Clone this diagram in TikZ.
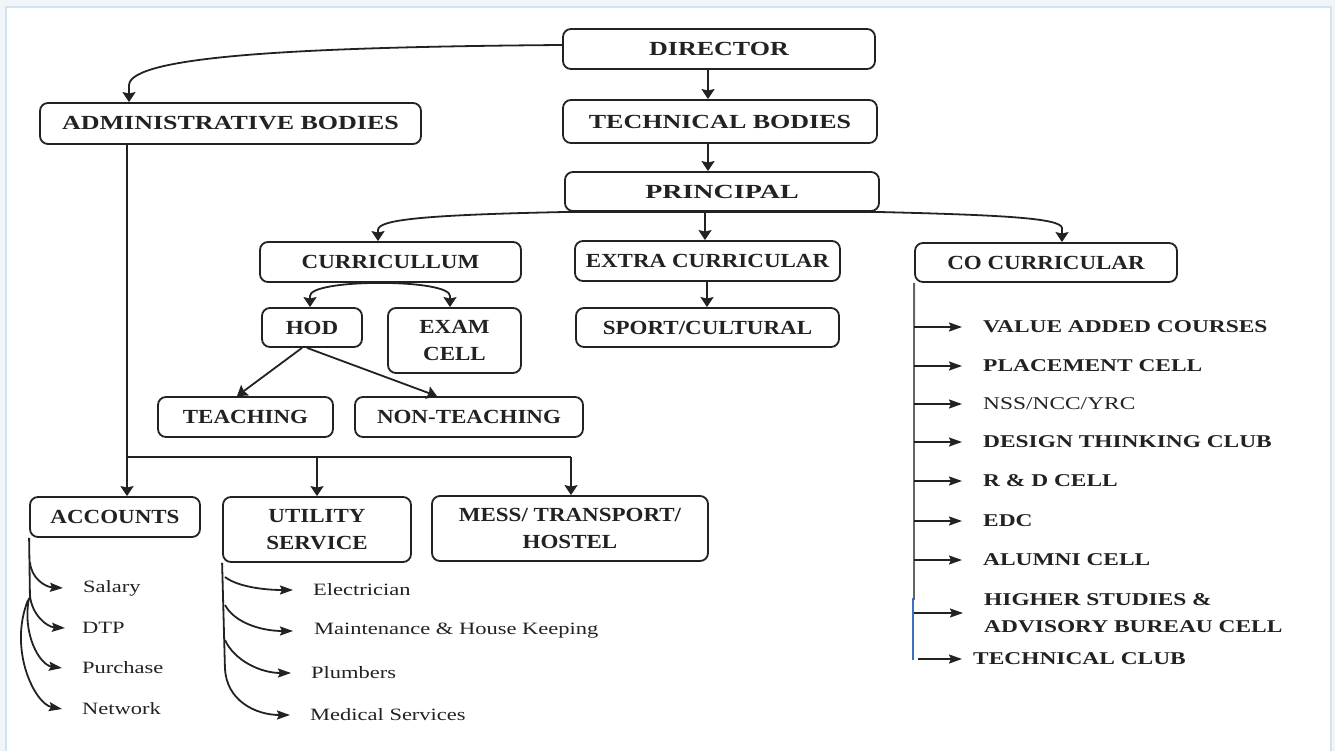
\documentclass[tikz,border=0pt]{standalone}
\usepackage{fontspec}
\setmainfont{Liberation Serif}[FakeStretch=1.15]
\newfontfamily\widef{Liberation Serif}[FakeStretch=1.3]
\newfontfamily\widerf{Liberation Serif}[FakeStretch=1.4]
\usetikzlibrary{arrows.meta}
\definecolor{ink}{HTML}{222222}
\definecolor{framec}{HTML}{D3E2F1}
\definecolor{bluebar}{HTML}{3F6FC0}
\begin{document}
\begin{tikzpicture}[x=1pt,y=-1pt,
  box/.style={draw=ink, line width=1.8pt, rounded corners=8pt, inner sep=0pt, text=ink,
    font=\fontsize{20}{27}\selectfont\bfseries, align=center},
  topbox/.style={box, font=\widef\fontsize{20}{27}\selectfont\bfseries},
  link/.style={draw=ink, line width=1.8pt, -{Stealth[length=10pt,width=13pt,inset=1.5pt]}},
  hlink/.style={draw=ink, line width=1.8pt, -{Stealth[length=13pt,width=9pt,inset=2pt]}},
  wire/.style={draw=ink, line width=1.8pt},
  item/.style={text=ink, anchor=west, inner sep=0pt, font=\widef\fontsize{17.3}{20}\selectfont},
  coitem/.style={text=ink, anchor=west, inner sep=0pt, font=\widef\fontsize{18}{27}\selectfont\bfseries, align=left},
]
\useasboundingbox (0,0) rectangle (1335,751);
\fill[framec!35] (0,0) rectangle (1335,751);
\filldraw[fill=white, draw=framec, line width=1.5pt] (6,7) rectangle (1331,762);

% top boxes
\node[topbox, minimum width=312, minimum height=40] (dir) at (719,49) {DIRECTOR};
\node[topbox, minimum width=381, minimum height=41] (adm) at (230.5,123.5) {ADMINISTRATIVE BODIES};
\node[topbox, minimum width=314, minimum height=43] (tech) at (720,121.5) {TECHNICAL BODIES};
\node[box, font=\widerf\fontsize{20}{27}\selectfont\bfseries, minimum width=314, minimum height=39] (prin) at (722,191.5) {PRINCIPAL};
\node[box, minimum width=261, minimum height=40] (curr) at (390.5,262) {CURRICULLUM};
\node[box, minimum width=265, minimum height=40] (extra) at (707.5,261) {EXTRA CURRICULAR};
\node[box, minimum width=262, minimum height=39] (co) at (1046,262.5) {CO CURRICULAR};
\node[box, minimum width=100, minimum height=39] (hod) at (312,327.5) {HOD};
\node[box, minimum width=133, minimum height=65] (exam) at (454.5,340.5) {EXAM\\CELL};
\node[box, minimum width=263, minimum height=39] (sport) at (707.5,327.5) {SPORT/CULTURAL};
\node[box, minimum width=175, minimum height=40] (teach) at (245.5,417) {TEACHING};
\node[box, minimum width=228, minimum height=40] (nonteach) at (469,417) {NON-TEACHING};
\node[box, minimum width=170, minimum height=40] (acc) at (115,517) {ACCOUNTS};
\node[box, minimum width=188, minimum height=65] (util) at (317,529.5) {UTILITY\\SERVICE};
\node[box, minimum width=276, minimum height=65] (mess) at (570,528.5) {MESS/ TRANSPORT/\\HOSTEL};

% top connectors
\draw[link] ([yshift=4pt]dir.west) .. controls (300,47) and (131,56) .. (129,85) -- (adm.north -| 129,0);
\draw[link] (dir.south -| 708,0) -- (tech.north -| 708,0);
\draw[link] (tech.south -| 708,0) -- (prin.north -| 708,0);
\draw[link] (prin.south -| 705,0) -- (extra.north -| 705,0);
\draw[link] (prin.south -| 705,0) -- (565,212) .. controls (420,215) and (378,220) .. (378,230) -- (curr.north -| 378,0);
\draw[link] (prin.south -| 705,0) -- (879,212) .. controls (1000,215) and (1061,218) .. (1062,228) -- (co.north -| 1062,0);
\draw[link] (extra.south -| 707,0) -- (sport.north -| 707,0);

% curriculum branch
\coordinate (cs) at (curr.south -| 380,0);
\draw[link] (cs) .. controls (340,283) and (310,288) .. (310,296) -- (hod.north -| 310,0);
\draw[link] (cs) .. controls (420,283) and (450,288) .. (450,296) -- (exam.north -| 450,0);
\draw[link] (hod.south -| 302,0) -- (teach.north -| 237,0);
\draw[link] (hod.south -| 307,0) -- (nonteach.north -| 437,0);

% administrative branch
\coordinate (aj) at (127,457);
\draw[wire] (adm.south -| 127,0) -- (aj) -- (571,457);
\draw[link] (aj) -- (acc.north -| 127,0);
\draw[link] (317,457) -- (util.north -| 317,0);
\draw[link] (571,457) -- (mess.north -| 571,0);

% accounts items
\node[item] (sal) at (83,588) {Salary};
\node[item] (dtp) at (82,628) {DTP};
\node[item] (pur) at (82,668) {Purchase};
\node[item] (net) at (82,709) {Network};
\draw[wire] (acc.south west) -- (30,600);
\draw[hlink] (30,562) .. controls (31,578) and (45,587) .. ([xshift=-20pt]sal.west);
\draw[hlink] (30,596) .. controls (32,615) and (47,627) .. ([xshift=-17pt]dtp.west);
\draw[hlink] (29,598) .. controls (22,635) and (40,665) .. ([xshift=-20pt]pur.west);
\draw[hlink] (28,600) .. controls (8,650) and (35,704) .. ([xshift=-20pt]net.west);

% utility items
\node[item] (elec) at (313,590) {Electrician};
\node[item] (main) at (314,631) {Maintenance \& House Keeping};
\node[item] (plum) at (311,673) {Plumbers};
\node[item] (med) at (310,715) {Medical Services};
\draw[wire] (util.south west) -- (225,670);
\draw[hlink] (225,577) .. controls (238,587) and (265,590) .. ([xshift=-20pt]elec.west);
\draw[hlink] (225,605) .. controls (234,622) and (260,631) .. ([xshift=-21pt]main.west);
\draw[hlink] (225,640) .. controls (234,660) and (260,673) .. ([xshift=-20pt]plum.west);
\draw[hlink] (225,668) .. controls (226,700) and (255,715) .. ([xshift=-20pt]med.west);

% co-curricular items
\node[coitem] (vac) at (983,327) {VALUE ADDED COURSES};
\node[coitem] (plc) at (983,366) {PLACEMENT CELL};
\node[coitem, font=\widef\fontsize{18}{27}\selectfont] (nss) at (983,404) {NSS/NCC/YRC};
\node[coitem] (dtc) at (983,442) {DESIGN THINKING CLUB};
\node[coitem] (rnd) at (983,481) {R \& D CELL};
\node[coitem] (edc) at (983,521) {EDC};
\node[coitem] (alu) at (983,560) {ALUMNI CELL};
\node[coitem] (hsc) at (984,613) {HIGHER STUDIES \&\\ADVISORY BUREAU CELL};
\node[coitem] (tcl) at (973,659) {TECHNICAL CLUB};
\draw[draw=ink!70, line width=1.8pt] (co.south west) -- (914,600);
\draw[draw=bluebar, line width=1.8pt] (913,598) -- (913,660);
\foreach \n in {vac,plc,nss,dtc,rnd,edc,alu,hsc}
  \draw[hlink] (914,0 |- \n.west) -- ([xshift=-21pt]\n.west);
\draw[hlink] (918,659) -- ([xshift=-11pt]tcl.west);
\end{tikzpicture}
\end{document}
